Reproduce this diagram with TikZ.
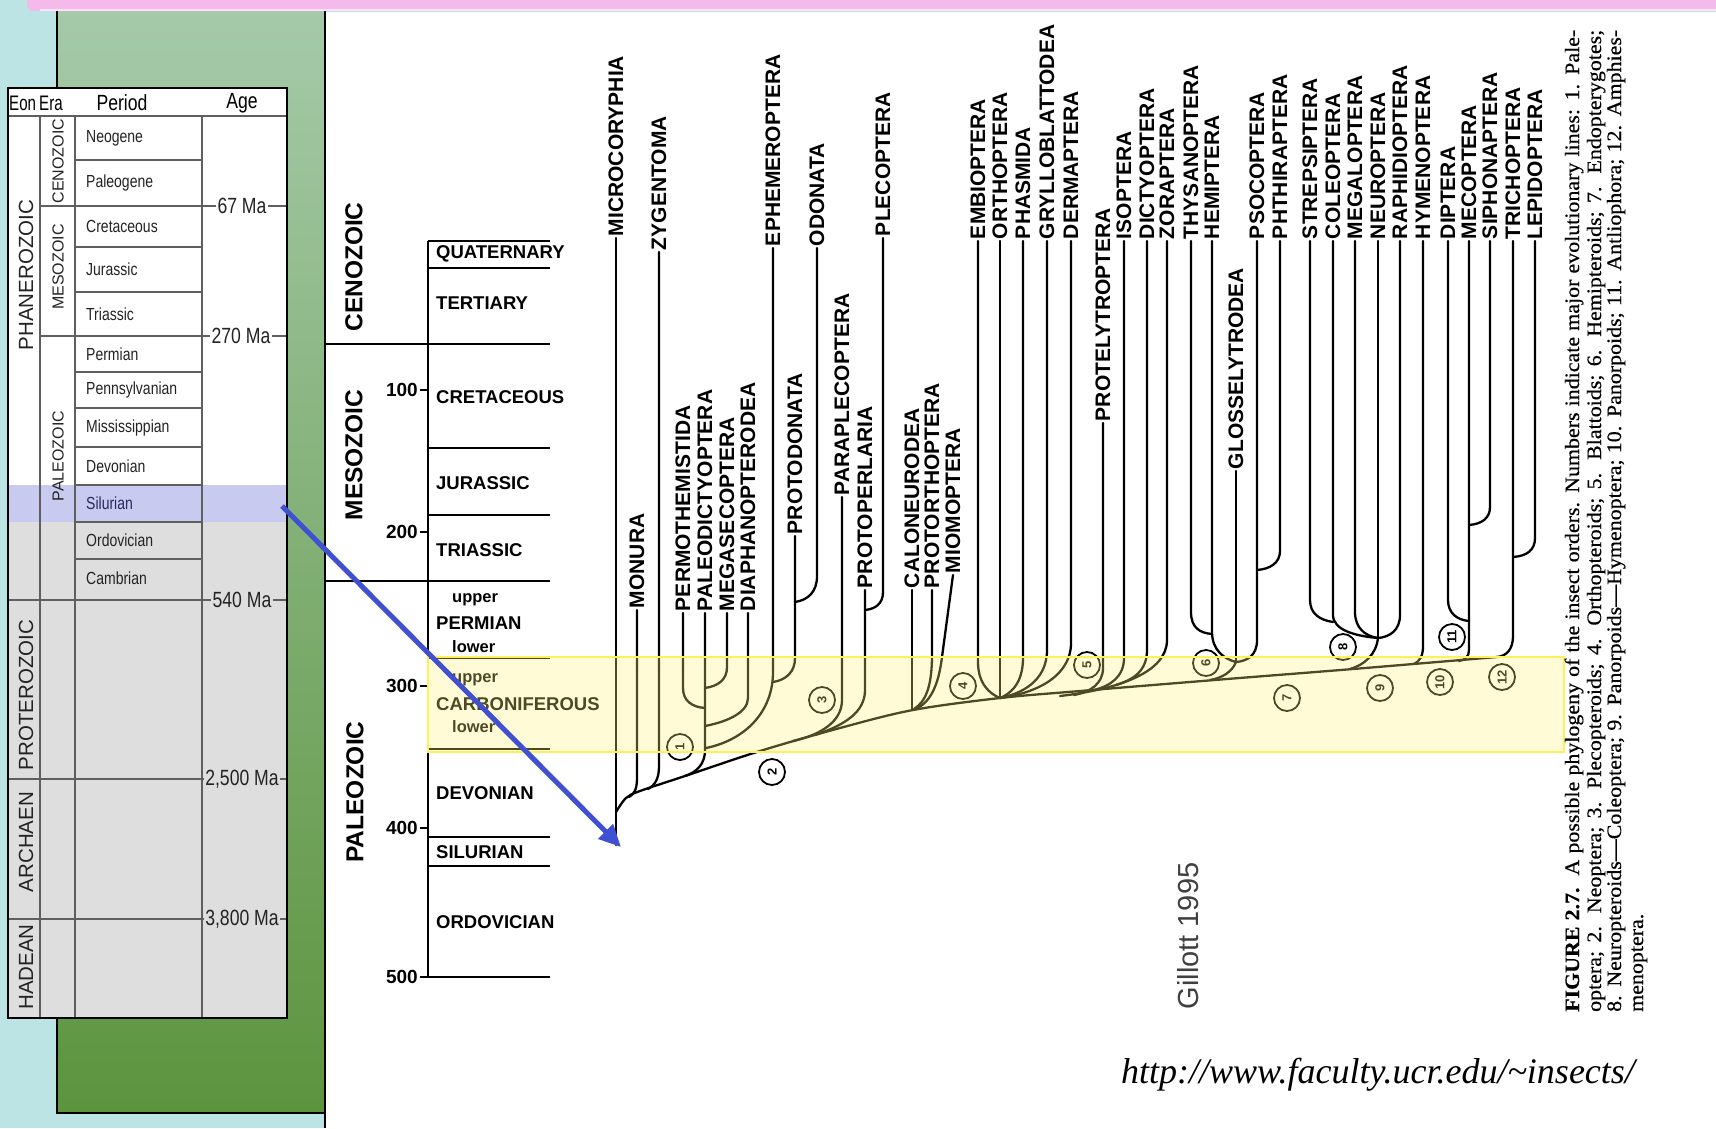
\documentclass[tikz,border=0pt]{standalone}
\usepackage{fontspec}
\usetikzlibrary{arrows.meta}
\newfontfamily\arialf{Liberation Sans}
\newfontfamily\narrowf[FakeStretch=0.8]{Liberation Sans}
\newfontfamily\hdrf[FakeStretch=0.72]{Liberation Sans}
\newfontfamily\seriff{Liberation Serif}
\newfontfamily\capf[FakeStretch=1.07,FakeBold=0.4]{Liberation Serif}
\definecolor{cyanbg}{RGB}{188,228,228}
\definecolor{greentop}{RGB}{166,202,170}
\definecolor{greenbot}{RGB}{92,148,62}
\definecolor{pinkbar}{RGB}{244,186,236}
\definecolor{lav}{RGB}{200,202,240}
\definecolor{tgray}{RGB}{222,222,222}
\definecolor{tline}{RGB}{95,95,95}
\definecolor{bandfill}{RGB}{255,245,120}
\definecolor{bandline}{RGB}{255,240,90}
\definecolor{arrowblue}{RGB}{64,80,210}
\definecolor{tabtext}{RGB}{35,35,35}
\definecolor{silt}{RGB}{40,40,90}
\tikzset{
  taxon/.style={rotate=90, anchor=west, inner sep=0pt, outer xsep=2pt, outer ysep=0pt,
    font=\arialf\bfseries\fontsize{21}{21}\selectfont},
  branch/.style={line width=2.3pt, line cap=round, line join=round},
  plbl/.style={anchor=west, inner sep=0pt, font=\arialf\bfseries\fontsize{18.5}{18.5}\selectfont},
  sublbl/.style={anchor=west, inner sep=0pt, font=\arialf\bfseries\fontsize{16.5}{16.5}\selectfont},
  ticknum/.style={anchor=east, inner sep=0pt, font=\arialf\bfseries\fontsize{19}{19}\selectfont},
  eralbl/.style={rotate=90, inner sep=0pt, font=\arialf\bfseries\fontsize{24.5}{24.5}\selectfont},
  nodecirc/.style={circle, draw, line width=1.8pt, minimum size=26pt, inner sep=0pt, rotate=90,
    font=\arialf\bfseries\fontsize{13}{13}\selectfont},
  perlbl/.style={anchor=west, inner sep=0pt, text=tabtext, font=\narrowf\fontsize{17.5}{17.5}\selectfont},
  eonlbl/.style={rotate=90, inner sep=0pt, text=tabtext, font=\arialf\fontsize{20.5}{20.5}\selectfont},
  eratab/.style={rotate=90, inner sep=0pt, text=tabtext, font=\arialf\fontsize{16}{16}\selectfont},
  hdr/.style={inner sep=0pt, text=black, font=\narrowf\fontsize{22}{22}\selectfont},
  agelbl/.style={inner sep=1.5pt, text=tabtext, font=\narrowf\fontsize{22}{22}\selectfont},
  tabline/.style={draw=tline, line width=1.3pt},
  axis/.style={line width=2pt},
  captxt/.style={rotate=90, anchor=base west, inner sep=0pt, font=\capf\fontsize{20.5}{21}\selectfont}
}
\begin{document}
\begin{tikzpicture}[x=1pt,y=-1pt]
\useasboundingbox (0,0) rectangle (1716,1128);
\clip (0,0) rectangle (1716,1128);
% ---------- backgrounds
\fill[cyanbg] (0,0) rectangle (1716,1128);
\shade[top color=greentop, bottom color=greenbot] (57,0) rectangle (325,1113);
\draw[line width=1.5pt] (57,0) -- (57,1113) -- (325,1113);
\draw[line width=1.5pt] (325,0) -- (325,1128);
\fill[white] (326,12) rectangle (1716,1128);
\fill[pinkbar, rounded corners=7pt] (27,-12) rectangle (1740,11);
\fill[white!60!pinkbar] (40,9) rectangle (1716,11);

% ---------- geological table
\fill[white] (7.5,88) rectangle (287,485);
\fill[lav] (7.5,485) rectangle (287,522);
\fill[tgray] (7.5,522) rectangle (287,1018);
\draw[tabline] (7.5,116) -- (287,116);
\foreach \y in {160,247,292,372,408,447,485,522,559} \draw[tabline] (75,\y) -- (202,\y);
\foreach \y in {206,336} \draw[tabline] (40,\y) -- (287,\y);
\foreach \y in {600,779,919} \draw[tabline] (7.5,\y) -- (287,\y);
\foreach \x in {40,75,202} \draw[tabline] (\x,116) -- (\x,1018);
\draw[line width=2pt] (7.5,88) rectangle (287,1018);

\node[hdr, anchor=west, font=\hdrf\fontsize{21}{21}\selectfont] (hEon) at (9,103) {Eon};
\node[hdr, anchor=west, font=\hdrf\fontsize{21}{21}\selectfont] (hEra) at (39,103) {Era};
\node[hdr] (hPer) at (122,103) {Period};
\node[hdr] (hAge) at (242,103) {Age};

\node[eonlbl] (eon1) at (26,275) {PHANEROZOIC};
\node[eonlbl] (eon2) at (26,695) {PROTEROZOIC};
\node[eonlbl] (eon3) at (26,842) {ARCHAEN};
\node[eonlbl] (eon4) at (26,967) {HADEAN};
\node[eratab] (era1) at (58,161) {CENOZOIC};
\node[eratab] (era2) at (58,267) {MESOZOIC};
\node[eratab] (era3) at (58,456) {PALEOZOIC};

\node[perlbl] (p1) at (86,138) {Neogene};
\node[perlbl] (p2) at (86,183) {Paleogene};
\node[perlbl] (p3) at (86,226.5) {Cretaceous};
\node[perlbl] (p4) at (86,269.5) {Jurassic};
\node[perlbl] (p5) at (86,314) {Triassic};
\node[perlbl] (p6) at (86,354) {Permian};
\node[perlbl] (p7) at (86,390) {Pennsylvanian};
\node[perlbl] (p8) at (86,427.5) {Mississippian};
\node[perlbl] (p9) at (86,466) {Devonian};
\node[perlbl, text=silt] (p10) at (86,503.5) {Silurian};
\node[perlbl] (p11) at (86,540.5) {Ordovician};
\node[perlbl] (p12) at (86,578) {Cambrian};

\node[agelbl, fill=white] (a1) at (242,206) {67 Ma};
\node[agelbl, fill=white] (a2) at (241,336) {270 Ma};
\node[agelbl, fill=tgray] (a3) at (242,600) {540 Ma};
\node[agelbl, fill=tgray] (a4) at (242,779) {2,500 Ma};
\node[agelbl, fill=tgray] (a5) at (242,919) {3,800 Ma};

% ---------- time axis
\draw[axis] (428,241) -- (428,977);
\foreach \y in {241,268,448,515,658,749,837,866,977} \draw[axis] (428,\y) -- (550,\y);
\draw[axis] (326,344) -- (550,344);
\draw[axis] (326,581) -- (550,581);
\foreach \y/\t in {390/100,532/200,686/300,828/400,977/500} {
  \draw[line width=1.5pt] (420,\y) -- (428,\y);
  \node[ticknum] at (418,\y) {\t};
}
\node[eralbl] (eC) at (354,267) {CENOZOIC};
\node[eralbl] (eM) at (354,455) {MESOZOIC};
\node[eralbl] (eP) at (355,792) {PALEOZOIC};
\node[plbl] (q1) at (436,254) {QUATERNARY};
\node[plbl] (q2) at (436,303) {TERTIARY};
\node[plbl] (q3) at (436,397) {CRETACEOUS};
\node[plbl] (q4) at (436,483) {JURASSIC};
\node[plbl] (q5) at (436,550) {TRIASSIC};
\node[sublbl] (q6) at (452,600) {upper};
\node[plbl] (q7) at (436,623) {PERMIAN};
\node[sublbl] (q8) at (452,647) {lower};
\node[sublbl] (q9) at (452,680) {upper};
\node[plbl] (q10) at (436,704) {CARBONIFEROUS};
\node[sublbl] (q11) at (452,727) {lower};
\node[plbl] (q12) at (436,793) {DEVONIAN};
\node[plbl] (q13) at (436,852) {SILURIAN};
\node[plbl] (q14) at (436,922) {ORDOVICIAN};

% ---------- taxa labels
\node[taxon] (mic) at (616,238) {MICROCORYPHIA};
\node[taxon] (mon) at (637,610) {MONURA};
\node[taxon] (zyg) at (659,252) {ZYGENTOMA};
\node[taxon] (pmt) at (683,613) {PERMOTHEMISTIDA};
\node[taxon] (pdc) at (705,613) {PALEODICTYOPTERA};
\node[taxon] (msc) at (727,613) {MEGASECOPTERA};
\node[taxon] (dph) at (748,613) {DIAPHANOPTERODEA};
\node[taxon] (eph) at (773,248) {EPHEMEROPTERA};
\node[taxon] (ptd) at (795,536) {PROTODONATA};
\node[taxon] (odo) at (817,248) {ODONATA};
\node[taxon] (ppl) at (842,497) {PARAPLECOPTERA};
\node[taxon] (ppr) at (865,590) {PROTOPERLARIA};
\node[taxon] (plc) at (883,238) {PLECOPTERA};
\node[taxon] (cal) at (912,590) {CALONEURODEA};
\node[taxon] (pro) at (932,590) {PROTORTHOPTERA};
\node[taxon] (mio) at (953,575) {MIOMOPTERA};
\node[taxon] (emb) at (978,241) {EMBIOPTERA};
\node[taxon] (ort) at (1000,241) {ORTHOPTERA};
\node[taxon] (pha) at (1023,241) {PHASMIDA};
\node[taxon] (gry) at (1047,241) {GRYLLOBLATTODEA};
\node[taxon] (der) at (1071,241) {DERMAPTERA};
\node[taxon] (pel) at (1103,423) {PROTELYTROPTERA};
\node[taxon] (iso) at (1124,241) {ISOPTERA};
\node[taxon] (dic) at (1147,241) {DICTYOPTERA};
\node[taxon] (zor) at (1167,241) {ZORAPTERA};
\node[taxon] (thy) at (1191,241) {THYSANOPTERA};
\node[taxon] (hem) at (1212,241) {HEMIPTERA};
\node[taxon] (glo) at (1236,471) {GLOSSELYTRODEA};
\node[taxon] (pso) at (1257,241) {PSOCOPTERA};
\node[taxon] (pht) at (1280,241) {PHTHIRAPTERA};
\node[taxon] (str) at (1310,241) {STREPSIPTERA};
\node[taxon] (col) at (1333,241) {COLEOPTERA};
\node[taxon] (mgl) at (1355,241) {MEGALOPTERA};
\node[taxon] (neu) at (1378,241) {NEUROPTERA};
\node[taxon] (rap) at (1400,241) {RAPHIDIOPTERA};
\node[taxon] (hym) at (1423,241) {HYMENOPTERA};
\node[taxon] (dip) at (1448,241) {DIPTERA};
\node[taxon] (mec) at (1469,241) {MECOPTERA};
\node[taxon] (sip) at (1490,241) {SIPHONAPTERA};
\node[taxon] (tri) at (1513,241) {TRICHOPTERA};
\node[taxon] (lep) at (1535,241) {LEPIDOPTERA};

% ---------- branches
\draw[branch] (mic.west) -- (616,845);
\draw[branch] plot[smooth, tension=0.55] coordinates {(616,812) (626,798) (640,791) (685,776) (760,751) (840,728) (913,710) (1000,698) (1080,691) (1227,679) (1353,669) (1497,657)};
\draw[branch] (mon.west) -- (637,778) .. controls (637,790) and (634,794) .. (629,797);
\draw[branch] (zyg.west) -- (659,766) .. controls (659,779) and (655,785) .. (648,789);
% palaeoptera
\draw[branch] (pdc.west) -- (705,750) .. controls (705,764) and (697,772) .. (685,776);
\draw[branch] (pmt.west) -- (683,688) .. controls (683,701) and (692,707) .. (705,708);
\draw[branch] (msc.west) -- (727,667) .. controls (727,680) and (718,686) .. (705,688);
\draw[branch] (dph.west) -- (748,698) .. controls (748,713) and (726,722) .. (705,726);
\draw[branch] (eph.west) -- (773,672) .. controls (773,712) and (745,740) .. (706,748);
\draw[branch] (ptd.west) -- (795,658) .. controls (795,672) and (786,680) .. (773,682);
\draw[branch] (odo.west) -- (817,576) .. controls (817,592) and (808,600) .. (795,602);
% plecopteroids
\draw[branch] (ppl.west) -- (842,700) .. controls (842,722) and (820,735) .. (793,741);
\draw[branch] (ppr.west) -- (865,690) .. controls (865,712) and (845,725) .. (815,735);
\draw[branch] (plc.west) -- (883,592) .. controls (883,604) and (875,609) .. (865,610);
% caloneurodea group
\draw[branch] (cal.west) -- (912,709);
\draw[branch] (pro.west) -- (932,655) .. controls (932,688) and (925,702) .. (914,709);
\draw[branch] (mio.west) -- (942,657) .. controls (938,690) and (928,703) .. (916,709);
% orthopteroids
\coordinate (j4) at (1000,698);
\draw[branch] (emb.west) -- (978,662) .. controls (978,684) and (990,694) .. (j4);
\draw[branch] (ort.west) -- (j4);
\draw[branch] (pha.west) -- (1023,658) .. controls (1023,684) and (1010,694) .. (j4);
\draw[branch] (gry.west) -- (1047,650) .. controls (1047,682) and (1020,694) .. (j4);
\draw[branch] (der.west) -- (1071,645) .. controls (1069,680) and (1030,694) .. (j4);
% blattoids
\draw[branch] (zor.west) -- (1167,640) .. controls (1167,672) and (1120,689) .. (1060,696);
\draw[branch] (dic.west) -- (1147,650) .. controls (1147,672) and (1132,680) .. (1116,685);
\draw[branch] (iso.west) -- (1124,658) .. controls (1124,677) and (1110,686) .. (1094,690);
\draw[branch] (pel.west) -- (1103,668) .. controls (1103,684) and (1090,692) .. (1074,695);
% hemipteroids
\coordinate (j6) at (1236,662);
\draw[branch] (thy.west) -- (1191,612) .. controls (1191,628) and (1200,633) .. (1212,634);
\draw[branch] (hem.west) -- (1212,632) .. controls (1212,650) and (1224,659) .. (j6);
\draw[branch] (glo.west) -- (j6);
\draw[branch] (pso.west) -- (1257,640) .. controls (1257,655) and (1248,661) .. (j6);
\draw[branch] (pht.west) -- (1280,551) .. controls (1280,563) and (1270,569) .. (1257,570);
\draw[branch] (j6) .. controls (1232,672) and (1222,678) .. (1210,680);
% neuropteroids - coleoptera
\coordinate (j8) at (1378,638);
\draw[branch] (str.west) -- (1310,600) .. controls (1310,614) and (1320,620) .. (1333,622);
\draw[branch] (col.west) -- (1333,615) .. controls (1333,630) and (1355,636) .. (j8);
\draw[branch] (mgl.west) -- (1355,612) .. controls (1355,628) and (1365,636) .. (j8);
\draw[branch] (neu.west) -- (j8);
\draw[branch] (rap.west) -- (1400,615) .. controls (1400,630) and (1390,637) .. (j8);
\draw[branch] (j8) .. controls (1376,655) and (1364,665) .. (1350,669);
% hymenoptera
\draw[branch] (hym.west) -- (1423,646) .. controls (1423,656) and (1420,661) .. (1414,664);
% panorpoids
\draw[branch] (dip.west) -- (1448,600) .. controls (1448,613) and (1457,620) .. (1469,621);
\draw[branch] (mec.west) -- (1469,650) .. controls (1469,657) and (1465,660) .. (1459,661);
\draw[branch] (sip.west) -- (1490,507) .. controls (1490,518) and (1482,524) .. (1469,525);
% amphiesmenoptera
\draw[branch] (lep.west) -- (1535,538) .. controls (1535,550) and (1527,556) .. (1513,557);
\draw[branch] (tri.west) -- (1513,636) .. controls (1513,650) and (1506,656) .. (1497,657);

% ---------- numbered circles
\node[nodecirc] (c1) at (680,747) {1};
\node[nodecirc] (c2) at (772,772) {2};
\node[nodecirc] (c3) at (822,700) {3};
\node[nodecirc] (c4) at (963,686) {4};
\node[nodecirc] (c5) at (1087,665) {5};
\node[nodecirc] (c6) at (1206,663) {6};
\node[nodecirc] (c7) at (1287,698) {7};
\node[nodecirc] (c8) at (1343,647) {8};
\node[nodecirc] (c9) at (1380,688) {9};
\node[nodecirc] (c10) at (1440,682) {10};
\node[nodecirc] (c11) at (1452,637) {11};
\node[nodecirc] (c12) at (1502,677) {12};

% ---------- yellow band
\fill[bandfill, fill opacity=0.3] (428,657) rectangle (1564,752);
\draw[bandline, line width=1.5pt] (428,657) rectangle (1564,752);

% ---------- arrow
\coordinate (arrS) at (282,506);
\coordinate (arrE) at (621,847);
\draw[arrowblue, line width=5pt, -{Triangle[length=22pt,width=20pt]}] (arrS) -- (arrE);

% ---------- texts
\node[rotate=90, inner sep=0pt, text=black!75, font=\arialf\fontsize{29}{29}\selectfont] (gil) at (1188,936) {Gillott 1995};
\node[inner sep=0pt, font=\seriff\itshape\fontsize{36}{36}\selectfont] (url) at (1378,1075) {http://www.faculty.ucr.edu/\textasciitilde insects/};

\node[captxt] (cap1) at (1579,1012) {\makebox[982pt][s]{\textbf{FIGURE 2.7.}\hspace{12pt}A possible phylogeny of the insect orders. Numbers indicate major evolutionary lines: 1. Pale-}};
\node[captxt] (cap2) at (1601,1012) {\makebox[982pt][s]{optera; 2. Neoptera; 3. Plecopteroids; 4. Orthopteroids; 5. Blattoids; 6. Hemipteroids; 7. Endopterygotes;}};
\node[captxt] (cap3) at (1621,1012) {\makebox[982pt][s]{8. Neuropteroids\textemdash Coleoptera; 9. Panorpoids\textemdash Hymenoptera; 10. Panorpoids; 11. Antliophora; 12. Amphies-}};
\node[captxt] (cap4) at (1643,1012) {menoptera.};
\end{tikzpicture}
\end{document}
